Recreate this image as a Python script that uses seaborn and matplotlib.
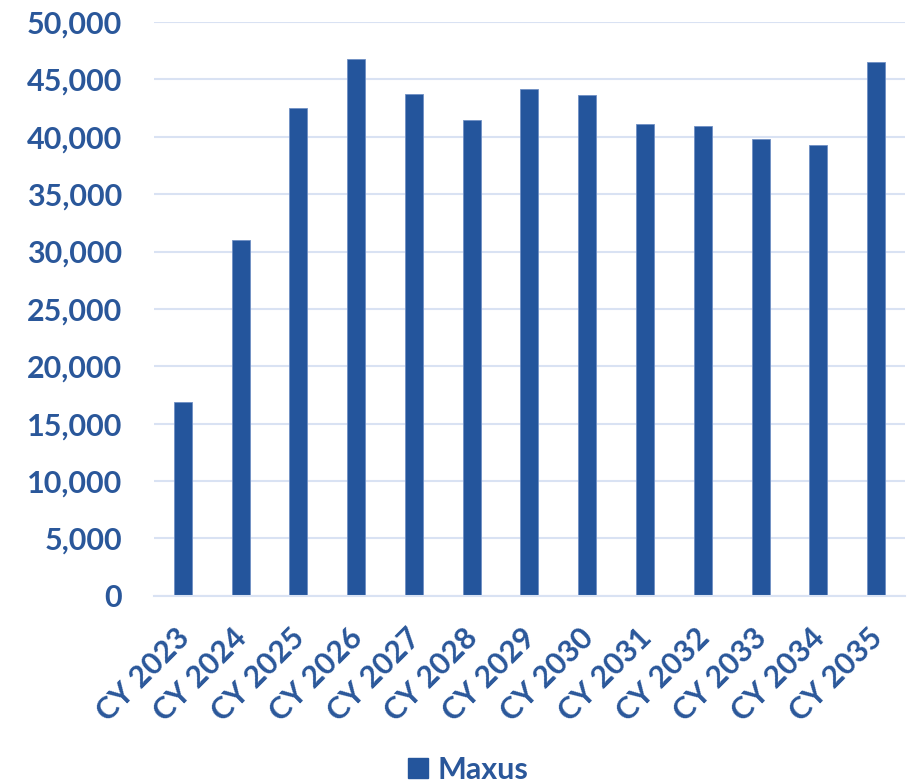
import matplotlib
matplotlib.use("Agg")
import matplotlib.pyplot as plt
import matplotlib.transforms as mtransforms
import seaborn as sns
import pandas as pd
from matplotlib.ticker import FuncFormatter, MultipleLocator
from matplotlib.patches import Patch

years = ["CY 2023", "CY 2024", "CY 2025", "CY 2026", "CY 2027", "CY 2028", "CY 2029",
         "CY 2030", "CY 2031", "CY 2032", "CY 2033", "CY 2034", "CY 2035"]
maxus = [16900, 31000, 42500, 46750, 43700, 41500, 44200, 43600, 41100, 40900, 39800, 39300, 46500]
series_name = "Maxus"

df = pd.DataFrame({"year": years, "value": maxus})

sns.set_theme(style="white")
plt.rcParams['font.family'] = ['Lato', 'DejaVu Sans']

bar_color = "#24559C"
text_color = "#2A579A"
grid_color = "#D9E2F3"

fig = plt.figure(figsize=(9.16, 7.84), dpi=100)
ax = fig.add_axes([0.168, 0.240, 0.820, 0.732])

sns.barplot(data=df, x="year", y="value", color=bar_color, width=0.31, ax=ax,
            saturation=1, edgecolor="#6F8FC4", linewidth=0.6)

ax.set_ylim(0, 50000)
ax.set_xlim(-0.5, len(years) - 0.5)
ax.yaxis.set_major_locator(MultipleLocator(5000))
ax.yaxis.set_major_formatter(FuncFormatter(lambda v, p: f"{int(v):,}"))
ax.grid(axis="y", color=grid_color, linewidth=1.5)
ax.set_axisbelow(True)
for s in ["top", "right", "left"]:
    ax.spines[s].set_visible(False)
ax.spines["bottom"].set_color(grid_color)
ax.spines["bottom"].set_linewidth(1.5)
ax.set_xlabel("")
ax.set_ylabel("")
ax.tick_params(axis="y", length=0, pad=23, labelsize=22, labelcolor=text_color)
ax.tick_params(axis="x", length=0, pad=20, labelsize=22, labelcolor=text_color)
for lab in ax.get_yticklabels():
    lab.set_fontweight("bold")
shift = mtransforms.ScaledTranslation(-8 / 100, 0, fig.dpi_scale_trans)
for lab in ax.get_xticklabels():
    lab.set_fontweight("bold")
    lab.set_rotation(45)
    lab.set_ha("right")
    lab.set_rotation_mode("anchor")
    lab.set_transform(lab.get_transform() + shift)

handles = [Patch(facecolor=bar_color, edgecolor=bar_color, label=series_name)]
leg = fig.legend(handles=handles, loc="lower center", bbox_to_anchor=(0.511, -0.035),
                 frameon=False, prop={"size": 22, "weight": "bold"},
                 handlelength=0.65, handleheight=0.65, handletextpad=0.3)
for t in leg.get_texts():
    t.set_color(text_color)

fig.savefig("out.png", dpi=100)
